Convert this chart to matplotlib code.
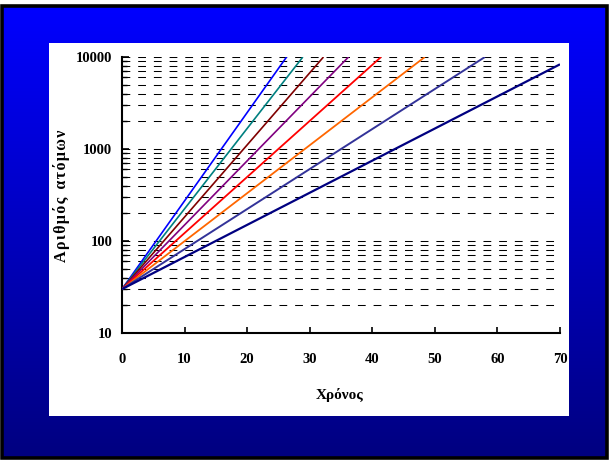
import numpy as np
import matplotlib
matplotlib.use("Agg")
import matplotlib.pyplot as plt
from matplotlib.patches import Rectangle
from matplotlib.colors import LinearSegmentedColormap
from matplotlib.ticker import LogLocator, NullFormatter, FixedLocator

plt.rcParams['font.family'] = ['Liberation Serif', 'DejaVu Serif']
plt.rcParams['font.weight'] = 'bold'
plt.rcParams['lines.scale_dashes'] = False

# Growth curves: all start from 30 atoms at t=0; end points read where each
# curve leaves the plot (top edge at 10000, or right edge at t=70)
x_start = 0
y_start = 30
end_x = [26.3, 28.9, 32.2, 36.2, 41.4, 48.4, 58.0, 70.0]
end_y = [10000, 10000, 10000, 10000, 10000, 10000, 10000, 8330]
colors = ['#0000FF', '#008080', '#800000', '#800080',
          '#FF0000', '#FF6600', '#333399', '#000080']
widths = [1.2, 1.2, 1.2, 1.2, 1.3, 1.3, 1.4, 1.6]

x_ticks = [0, 10, 20, 30, 40, 50, 60, 70]
y_major = [10, 100, 1000, 10000]
y_ticklabels = ['10', '100', '1000', '10000']
x_label = 'Χρόνος'
y_label = '\u200a'.join('Αριθμός') + '  ' + '\u200a'.join('ατόμων')

W, H = 610, 461
fig = plt.figure(figsize=(W / 100, H / 100), dpi=100, facecolor='white')

# Slide background: blue gradient with a black frame and a white panel
bg = fig.add_axes([0, 0, 1, 1])
bg.set_xlim(0, W)
bg.set_ylim(H, 0)
bg.axis('off')
grad_cmap = LinearSegmentedColormap.from_list('slide', ['#0000FF', '#000080'])
grad = np.linspace(0, 1, 256).reshape(-1, 1)
bg.imshow(grad, cmap=grad_cmap, aspect='auto', extent=[2, 607, 458, 6],
          interpolation='bilinear', zorder=0)
bg.add_patch(Rectangle((2, 6), 605, 452, fill=False, edgecolor='black',
                       linewidth=2.6, zorder=2))
bg.add_patch(Rectangle((49, 43), 520, 373, facecolor='white',
                       edgecolor='none', zorder=3))
bg.set_xlim(0, W)
bg.set_ylim(H, 0)

# Plot area
left, right, top, bottom = 122, 560, 57, 333
ax = fig.add_axes([left / W, 1 - bottom / H, (right - left) / W, (bottom - top) / H])
ax.set_facecolor('none')
ax.set_yscale('log')
ax.set_xlim(0, 70)
ax.set_ylim(10, 10000)

# Dashed horizontal gridlines at every decade subdivision
grid_vals = [m * 10 ** e for e in range(1, 4) for m in range(2, 10)] + [100, 1000, 10000]
for g in grid_vals:
    ax.axhline(g, color='black', linewidth=0.75, dashes=(5.6, 5.7), zorder=1)

for xe, ye, c, lw in zip(end_x, end_y, colors, widths):
    ax.plot([x_start, xe], [y_start, ye], color=c, linewidth=lw,
            solid_capstyle='butt', zorder=3, clip_on=True)

ax.yaxis.set_major_locator(FixedLocator(y_major))
ax.set_yticklabels(y_ticklabels)
ax.yaxis.set_minor_locator(LogLocator(base=10, subs=np.arange(2, 10)))
ax.yaxis.set_minor_formatter(NullFormatter())
ax.set_xticks(x_ticks)
ax.set_xticklabels([str(v) for v in x_ticks])

for s in ['top', 'right']:
    ax.spines[s].set_visible(False)
for s in ['left', 'bottom']:
    ax.spines[s].set_linewidth(1.5)
    ax.spines[s].set_color('black')

ax.tick_params(axis='y', which='major', direction='in', length=5.2, width=1.2,
               pad=7, labelsize=10.5)
ax.tick_params(axis='y', which='minor', direction='in', length=3.8, width=1.0)
ax.tick_params(axis='x', which='major', direction='in', length=4.5, width=1.2,
               pad=14.5, labelsize=10.5)
for lbl in ax.get_xticklabels() + ax.get_yticklabels():
    lbl.set_fontweight('bold')

fig.text(340 / W, 1 - 395 / H, x_label, ha='center', va='center',
         fontsize=11, fontweight='bold')
fig.text(62 / W, 1 - 196 / H, y_label, ha='center', va='center',
         rotation=90, fontsize=11.5, fontweight='bold')

fig.savefig('out.png', dpi=100, facecolor='white')
